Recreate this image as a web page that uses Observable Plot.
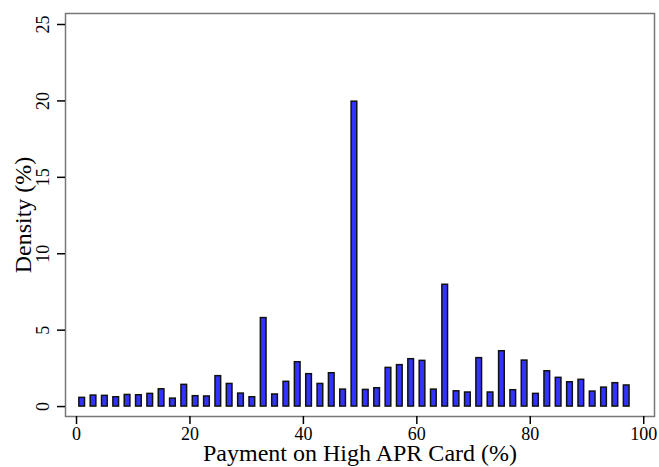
<!DOCTYPE html>
<html>
<head>
<meta charset="utf-8">
<script src="https://cdn.jsdelivr.net/npm/d3@7"></script>
<script src="https://cdn.jsdelivr.net/npm/@observablehq/plot@0.6"></script>
<style>
  body { margin: 0; background: white; }
</style>
</head>
<body>
<div id="chart"></div>
<script>
const bins = [1,3,5,7,9,11,13,15,17,19,21,23,25,27,29,31,33,35,37,39,41,43,45,47,49,
  51,53,55,57,59,61,63,65,67,69,71,73,75,77,79,81,83,85,87,89,91,93,95,97];
const density = [0.57,0.72,0.70,0.61,0.76,0.74,0.83,1.13,0.52,1.42,0.68,0.66,1.99,1.48,0.85,0.61,5.79,0.79,1.62,2.90,2.12,1.48,2.18,1.11,19.95,
  1.09,1.20,2.53,2.71,3.10,2.99,1.11,7.97,1.00,0.92,3.17,0.92,3.62,1.07,3.01,0.83,2.31,1.88,1.59,1.75,0.98,1.24,1.53,1.38];
const xTicks = [0,20,40,60,80,100];
const yTicks = [0,5,10,15,20,25];
const xTitle = "Payment on High APR Card (%)";
const yTitle = "Density (%)";

const data = bins.map((b, i) => ({bin: b, value: density[i]}));

const chart = Plot.plot({
  width: 659,
  height: 467,
  marginLeft: 65,
  marginRight: 5,
  marginTop: 13,
  marginBottom: 51,
  style: {fontFamily: "Liberation Serif", fontSize: "18px", background: "white", color: "black"},
  x: {domain: [-1.94, 101.9]},
  y: {domain: [-0.65, 25.72]},
  marks: [
    Plot.frame({stroke: "#777", strokeWidth: 1.5}),
    Plot.rectY(data, {x1: d => d.bin - 0.5, x2: d => d.bin + 0.5, y1: 0, y2: "value",
      fill: "#3333ff", stroke: "#111", strokeWidth: 1.5}),
    Plot.axisX({ticks: xTicks, tickSize: 8, tickPadding: 3, fontSize: 18, label: null, line: true, strokeWidth: 1.5}),
    Plot.axisY({ticks: yTicks, tickSize: 8, tickPadding: 9, tickRotate: -90, fontSize: 18, label: null, line: true, strokeWidth: 1.5}),
    Plot.text([xTitle], {frameAnchor: "bottom", lineAnchor: "middle", textAnchor: "middle", dy: 37, fontSize: 24, fill: "black"}),
    Plot.text([yTitle], {frameAnchor: "left", lineAnchor: "middle", textAnchor: "middle", dx: -42, rotate: -90, fontSize: 24, fill: "black"})
  ]
});
document.getElementById("chart").appendChild(chart);
</script>
</body>
</html>
